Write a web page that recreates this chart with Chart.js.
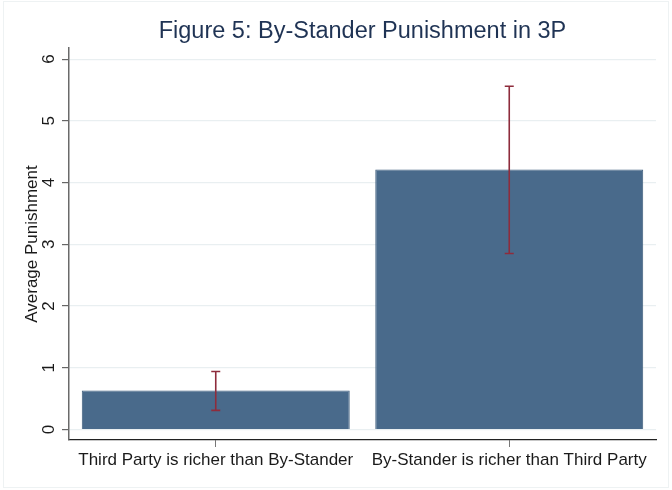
<!DOCTYPE html>
<html lang="en">
<head>
  <meta charset="UTF-8">
  <title>Figure 5: By-Stander Punishment in 3P</title>
  <script src="https://cdn.jsdelivr.net/npm/chart.js"></script>
  <style>
    html, body { margin: 0; padding: 0; background: #fff; }
    #wrap { width: 672px; height: 490px; }
  </style>
</head>
<body>
  <div id="wrap"><canvas id="chart" width="672" height="490"></canvas></div>
  <script>
    // data
    const categories = ['Third Party is richer than By-Stander', 'By-Stander is richer than Third Party'];
    const meanPunishment = [0.63, 4.21];
    const ciLow = [0.31, 2.85];
    const ciHigh = [0.94, 5.56];
    const yTicks = [0, 1, 2, 3, 4, 5, 6];

    const FONT = "'Liberation Sans', Arial, sans-serif";

    // white background + faint outer frame
    const frame = {
      id: 'frame',
      beforeDraw(chart) {
        const c = chart.ctx;
        c.save();
        c.fillStyle = '#fff';
        c.fillRect(0, 0, chart.width, chart.height);
        c.strokeStyle = '#eef2f3';
        c.lineWidth = 1;
        c.strokeRect(3.5, 1.5, chart.width - 7, chart.height - 4);
        c.restore();
      }
    };

    // confidence interval whiskers
    const errorBars = {
      id: 'errorBars',
      afterDatasetsDraw(chart) {
        const c = chart.ctx;
        const x = chart.scales.x, y = chart.scales.y;
        c.save();
        c.strokeStyle = '#8e2c3c';
        c.lineWidth = 1.6;
        categories.forEach((cat, i) => {
          const px = x.getPixelForValue(i);
          const top = y.getPixelForValue(ciHigh[i]);
          const bot = y.getPixelForValue(ciLow[i]);
          c.beginPath();
          c.moveTo(px, top); c.lineTo(px, bot);
          c.moveTo(px - 4.5, top); c.lineTo(px + 4.5, top);
          c.moveTo(px - 4.5, bot); c.lineTo(px + 4.5, bot);
          c.stroke();
        });
        c.restore();
      }
    };

    new Chart(document.getElementById('chart'), {
      type: 'bar',
      data: {
        labels: categories,
        datasets: [{
          label: 'Average Punishment',
          data: meanPunishment,
          backgroundColor: '#496a8b',
          borderColor: '#3d5c7b',
          borderWidth: 1,
          barPercentage: 0.913,
          categoryPercentage: 1
        }]
      },
      options: {
        responsive: false,
        animation: false,
        layout: { padding: { left: 0, right: 16, top: 0, bottom: 0 } },
        plugins: {
          legend: { display: false },
          tooltip: { enabled: false },
          title: {
            display: true,
            text: 'Figure 5: By-Stander Punishment in 3P',
            color: '#1f3354',
            fullSize: false,
            font: { family: FONT, size: 23.5, weight: 'normal', lineHeight: 1.2 },
            padding: { top: 17, bottom: 2.8 }
          }
        },
        scales: {
          x: {
            offset: true,
            grid: { display: true, drawOnChartArea: false, drawTicks: true, tickLength: 7, color: '#777', offset: false },
            border: { display: true, color: '#222', width: 1.2 },
            ticks: { color: '#1a1a1a', padding: 3, font: { family: FONT, size: 17 }, maxRotation: 0, minRotation: 0 },
            afterFit(s) { s.height = 50; }
          },
          y: {
            min: -0.17,
            max: 6.18,
            afterBuildTicks(s) { s.ticks = yTicks.map(v => ({ value: v })); },
            grid: { color: '#e9eff1', lineWidth: 1.2, drawTicks: true, tickLength: 7, tickColor: '#666' },
            border: { display: true, color: '#6a6a6a', width: 1.5 },
            ticks: {
              color: '#1a1a1a', padding: 8, minRotation: 90, maxRotation: 90, crossAlign: 'center',
              font: { family: FONT, size: 17 }
            },
            title: {
              display: true,
              text: 'Average Punishment',
              color: '#1a1a1a',
              font: { family: FONT, size: 17 },
              padding: { top: 22, bottom: 0 }
            },
            afterFit(s) { s.width = 69; }
          }
        }
      },
      plugins: [frame, errorBars]
    });
  </script>
</body>
</html>
